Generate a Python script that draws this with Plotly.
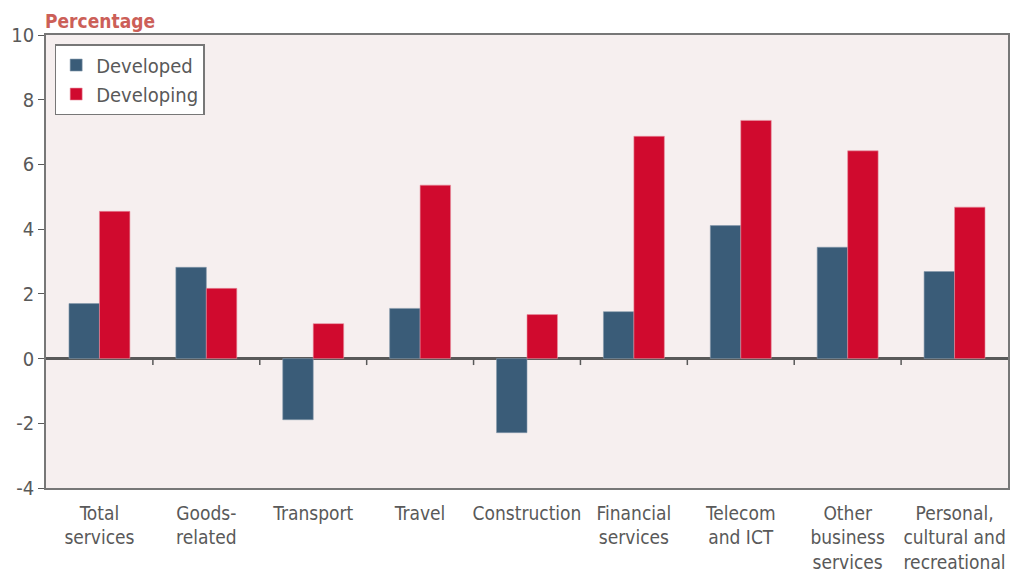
import plotly.graph_objects as go

categories = [
    "Total<br>services",
    "Goods-<br>related",
    "Transport",
    "Travel",
    "Construction",
    "Financial<br>services",
    "Telecom<br>and ICT",
    "Other<br>business<br>services",
    "Personal,<br>cultural and<br>recreational",
]
developed = [1.70, 2.82, -1.89, 1.55, -2.29, 1.45, 4.11, 3.44, 2.69]
developing = [4.55, 2.17, 1.08, 5.36, 1.36, 6.87, 7.36, 6.42, 4.68]
y_ticks = [-4, -2, 0, 2, 4, 6, 8, 10]

FONT = "DejaVu Sans Condensed, Open Sans, sans-serif"
GREY = "#595959"

fig = go.Figure()
fig.add_trace(go.Bar(x=categories, y=developed, name="Developed",
                     marker=dict(color="#3A5C78", line=dict(color="#8499AB", width=0.6))))
fig.add_trace(go.Bar(x=categories, y=developing, name="Developing",
                     marker=dict(color="#D00A2E", line=dict(color="#E8909F", width=0.6))))

# little tick marks on the zero line between categories
for i in range(len(categories) - 1):
    fig.add_shape(type="line", xref="x", yref="y", x0=i + 0.5, x1=i + 0.5,
                  y0=0, y1=-0.2, line=dict(color=GREY, width=1.5))

fig.update_layout(
    width=1018, height=574,
    margin=dict(l=46, r=10, t=35, b=86),
    paper_bgcolor="white",
    plot_bgcolor="#F6EFEF",
    barmode="group",
    bargap=0.43,
    bargroupgap=0,
    font=dict(family=FONT, color=GREY, size=19),
    showlegend=True,
    legend=dict(x=0.009, y=0.98, xanchor="left", yanchor="top",
                bgcolor="white", bordercolor="#777777", borderwidth=1.5,
                font=dict(size=20, color=GREY), tracegroupgap=0),
    annotations=[dict(text="<b>Percentage</b>", xref="paper", yref="paper",
                      x=0, y=1, xanchor="left", yanchor="bottom", yshift=1,
                      xshift=-3, showarrow=False,
                      font=dict(size=19, color="#CC5F58", family=FONT))],
)
fig.update_xaxes(
    showline=True, linecolor="#777777", linewidth=1.5, mirror=True,
    ticks="", tickfont=dict(size=19, color=GREY), showgrid=False,
    automargin=False, ticklabelstandoff=7,
)
fig.update_yaxes(
    range=[-4, 10], tickvals=y_ticks, ticktext=[str(v) for v in y_ticks],
    showgrid=False, automargin=False,
    showline=True, linecolor="#777777", linewidth=1.5, mirror=True,
    ticks="outside", ticklen=6, tickcolor=GREY, tickwidth=1,
    tickfont=dict(size=20, color=GREY),
    zeroline=True, zerolinecolor=GREY, zerolinewidth=2.5,
)

fig.write_html("out.html", config={"displayModeBar": False},
               post_script="document.body.style.margin='0';")
